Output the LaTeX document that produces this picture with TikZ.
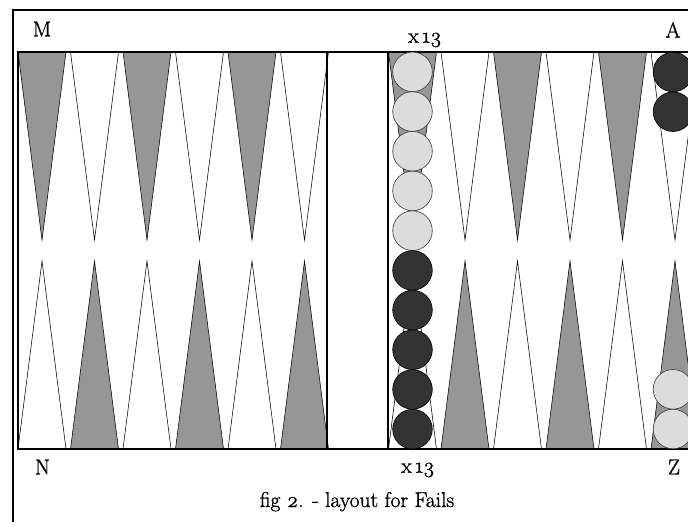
\documentclass[tikz,border=0pt]{standalone}
\usepackage{fontspec}
\setmainfont{Latin Modern Roman}[Numbers=OldStyle,FakeBold=1.2]
\definecolor{ptgray}{RGB}{150,150,150}
\definecolor{cklight}{RGB}{220,220,220}
\definecolor{ckdark}{RGB}{51,51,51}
\definecolor{ckedge}{RGB}{60,60,60}
\begin{document}
\begin{tikzpicture}[x=1pt,y=-1pt,
  tri/.style={draw=black,line width=0.55pt},
  grayp/.style={tri,fill=ptgray},
  whitep/.style={tri,fill=white},
  checker/.style={circle,draw=ckedge,line width=0.6pt,minimum size=39.6pt,inner sep=0pt},
  lightck/.style={checker,fill=cklight},
  darkck/.style={checker,fill=ckdark,draw=black},
  boardline/.style={draw=black,line width=1.2pt},
  lbl/.style={inner sep=0pt,font=\fontsize{21.5}{25}\selectfont}]
\useasboundingbox (0,0) rectangle (688,522);
\clip (0,0) rectangle (688,522);
\fill[white] (0,0) rectangle (688,522);
% points
\foreach \i in {0,...,5}{
  \pgfmathsetmacro{\cl}{42+52.5*\i}
  \pgfmathsetmacro{\cr}{412.5+52.5*\i}
  \ifodd\i
    \path[whitep] (\cl-24,52) -- (\cl,240) -- (\cl+24,52) -- cycle;
    \path[grayp] (\cl-24,449) -- (\cl,261) -- (\cl+24,449) -- cycle;
    \path[whitep] (\cr-24,52) -- (\cr,240) -- (\cr+24,52) -- cycle;
    \path[grayp] (\cr-24,449) -- (\cr,261) -- (\cr+24,449) -- cycle;
  \else
    \path[grayp] (\cl-24,52) -- (\cl,240) -- (\cl+24,52) -- cycle;
    \path[whitep] (\cl-24,449) -- (\cl,261) -- (\cl+24,449) -- cycle;
    \path[grayp] (\cr-24,52) -- (\cr,240) -- (\cr+24,52) -- cycle;
    \path[whitep] (\cr-24,449) -- (\cr,261) -- (\cr+24,449) -- cycle;
  \fi
}
% board lines
\draw[boardline] (700,52) -- (18,52) -- (18,449) -- (700,449);
\draw[boardline] (327,52) -- (327,449);
\draw[boardline] (388,52) -- (388,449);
% outer frame
\draw[line width=2pt] (13,530) -- (13,10) -- (700,10);
% bar-side stack
\foreach \k in {0,...,4}{
  \node[lightck] (w\k) at (412.5,{71.85+39.7*\k}) {};
}
\foreach \k in {5,...,9}{
  \node[darkck] (b\k) at (412.5,{71.85+39.7*\k}) {};
}
% top right dark checkers
\node[darkck] (a1) at (673,72) {};
\node[darkck] (a2) at (673,111.7) {};
% bottom right light checkers
\node[lightck] (z1) at (673,429) {};
\node[lightck] (z2) at (673,389.3) {};
% labels
\node[lbl] (M) at (42,29) {M};
\node[lbl] (A) at (673,30) {A};
\node[lbl] (N) at (42.5,467) {N};
\node[lbl] (Z) at (674,467) {Z};
\node[lbl] (xt) at (425,40) {x\,13};
\node[lbl] (xb) at (418,470) {x\,13};
\node[lbl,anchor=base] (cap) at (357,507) {fig 2. - layout for Fails};
\end{tikzpicture}
\end{document}
